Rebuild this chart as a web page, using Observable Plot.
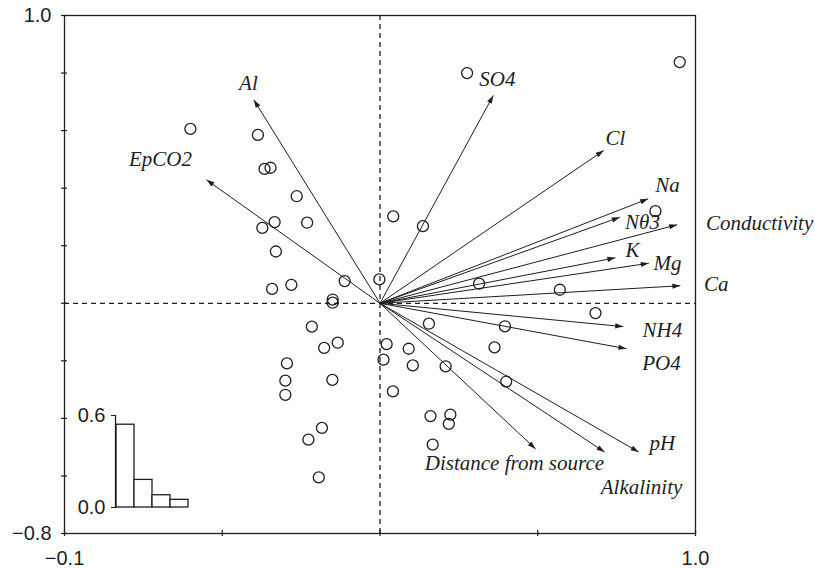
<!DOCTYPE html>
<html><head><meta charset="utf-8">
<script src="https://cdn.jsdelivr.net/npm/d3@7"></script>
<script src="https://cdn.jsdelivr.net/npm/@observablehq/plot@0.6"></script>
<style>
body{margin:0;background:#fff}
#wrap{position:relative;width:815px;height:569px;background:#fff;font-family:"Liberation Sans",Arial,sans-serif}
#inset{position:absolute;left:60px;top:400px}
#main svg g[aria-label="text"] text{font-family:"Liberation Serif","Times New Roman","DejaVu Serif",serif !important;font-style:italic !important}
#wrap svg g[aria-label$="axis tick label"] text{font-family:"Liberation Sans",Arial,sans-serif !important}
</style>
</head><body><div id="wrap"><div id="main"></div><div id="inset"></div></div>
<script>
// Sample scores (circles)
const sampleX = [-0.601,-0.387,-0.366,-0.347,-0.264,-0.334,-0.373,-0.231,-0.330,-0.342,-0.281,-0.112,-0.002,-0.150,-0.150,-0.216,-0.134,-0.177,-0.295,-0.300,-0.300,-0.151,-0.184,-0.227,-0.194,0.042,0.136,0.276,0.950,0.314,0.570,0.873,0.683,0.155,0.396,0.021,0.011,0.091,0.104,0.208,0.363,0.400,0.041,0.160,0.223,0.218,0.167];
const sampleY = [0.606,0.585,0.467,0.471,0.372,0.282,0.262,0.280,0.180,0.050,0.064,0.077,0.083,0.013,0.002,-0.081,-0.137,-0.155,-0.209,-0.269,-0.318,-0.266,-0.433,-0.474,-0.605,0.302,0.268,0.800,0.838,0.068,0.047,0.320,-0.034,-0.071,-0.080,-0.142,-0.196,-0.158,-0.216,-0.219,-0.153,-0.272,-0.306,-0.392,-0.387,-0.419,-0.491];

// Environmental variables (arrows)
const varNames = ["Al","EpCO2","SO4","Cl","Na","Nθ3","Conductivity","K","Mg","Ca","NH4","PO4","pH","Alkalinity","Distance from source"];
const varX = [-0.400,-0.550,0.359,0.709,0.850,0.760,0.942,0.746,0.852,0.952,0.771,0.781,0.820,0.712,0.493];
const varY = [0.707,0.429,0.722,0.531,0.363,0.299,0.273,0.158,0.139,0.061,-0.081,-0.158,-0.517,-0.517,-0.506];
const labelX = [-0.417,-0.696,0.372,0.746,0.911,0.832,1.203,0.800,0.911,1.066,0.895,0.892,0.895,0.829,0.426];
const labelY = [0.764,0.500,0.778,0.573,0.409,0.281,0.277,0.183,0.138,0.065,-0.094,-0.209,-0.487,-0.640,-0.557];

// Eigenvalue inset
const eigenAxes = ["1","2","3","4"];
const eigenValues = [0.54,0.18,0.08,0.05];
const eigenTicks = [0, 0.6];

// Axis ticks
const xTicks = [-1,-0.5,0,0.5,1];
const yTicks = [-0.8,-0.6,-0.4,-0.2,0,0.2,0.4,0.6,0.8,1.0];
const xLabelTicks = [-1, 1];
const xLabelText = ["−0.1", "1.0"];
const yLabelTicks = [-0.8, 1.0];
const yLabelText = ["−0.8", "1.0"];

const samples = sampleX.map((x, i) => ({sx: x, sy: sampleY[i]}));
const vars = varNames.map((n, i) => ({name: n, vx: varX[i], vy: varY[i], lx: labelX[i], ly: labelY[i]}));
const eigen = eigenAxes.map((a, i) => ({axis: a, value: eigenValues[i]}));
const xLab = new Map(xLabelTicks.map((t, i) => [t, xLabelText[i]]));
const yLab = new Map(yLabelTicks.map((t, i) => [t, yLabelText[i]]));

const INK = "#1e1e1e";
const SANS = "Liberation Sans";
const SERIF = "Liberation Serif";

function filledArrow(color, context) {
  return d3.create("svg:marker")
    .attr("viewBox", "-9 -4 10 8")
    .attr("markerWidth", 10)
    .attr("markerHeight", 8)
    .attr("markerUnits", "userSpaceOnUse")
    .attr("refX", 0)
    .attr("refY", 0)
    .attr("orient", "auto")
    .call(m => m.append("path").attr("d", "M-8,-2.6L0,0L-8,2.6Z").attr("fill", color).attr("stroke", "none"))
    .node();
}

function arrowMarks(useMarker) {
  if (useMarker) {
    return Plot.link(vars, {x1: () => 0, y1: () => 0, x2: "vx", y2: "vy", stroke: INK, strokeWidth: 1, markerEnd: filledArrow});
  }
  return Plot.arrow(vars, {x1: () => 0, y1: () => 0, x2: "vx", y2: "vy", stroke: INK, strokeWidth: 1, headLength: 8, headAngle: 35});
}

function buildMain(useMarker) {
  return Plot.plot({
    width: 815, height: 569,
    marginTop: 15, marginRight: 120, marginBottom: 36, marginLeft: 64,
    style: {fontFamily: SANS, background: "transparent"},
    x: {domain: [-1, 1], label: null},
    y: {domain: [-0.8, 1.0], label: null},
    marks: [
      Plot.ruleX([0], {stroke: INK, strokeWidth: 1.3, strokeDasharray: "5,4"}),
      Plot.ruleY([0], {stroke: INK, strokeWidth: 1.3, strokeDasharray: "5,4"}),
      Plot.frame({stroke: INK, strokeWidth: 1.3}),
      Plot.axisX(xTicks, {anchor: "bottom", tickSize: 6, dy: -3, tickFormat: () => "", stroke: INK, strokeWidth: 1.2}),
      Plot.axisY(yTicks, {anchor: "left", tickSize: 6, dx: 3, tickFormat: () => "", stroke: INK, strokeWidth: 1.2}),
      Plot.axisX(xLabelTicks, {anchor: "bottom", tickSize: 0, tickPadding: 17, tickFormat: d => xLab.get(d), fontSize: 20, fill: INK, fontFamily: SANS}),
      Plot.axisY(yLabelTicks, {anchor: "left", tickSize: 0, tickPadding: 13, tickFormat: d => yLab.get(d), fontSize: 20, fill: INK, fontFamily: SANS}),
      Plot.dot(samples, {x: "sx", y: "sy", r: 5.5, stroke: INK, strokeWidth: 1.3, fill: "none"}),
      arrowMarks(useMarker),
      Plot.text(vars, {x: "lx", y: "ly", text: "name", textAnchor: "middle", fontFamily: SERIF, fontStyle: "italic", fontSize: 21, fill: INK})
    ]
  });
}

let mainSvg;
try { mainSvg = buildMain(true); } catch (e) { mainSvg = buildMain(false); }
document.getElementById("main").append(mainSvg);

const insetSvg = Plot.plot({
  width: 140, height: 120,
  marginTop: 15, marginRight: 10.5, marginBottom: 13, marginLeft: 55,
  style: {fontFamily: SANS, background: "transparent"},
  x: {type: "band", domain: eigenAxes, paddingInner: 0, paddingOuter: 0, axis: null, label: null},
  y: {domain: [0, 0.6], label: null},
  marks: [
    Plot.barY(eigen, {x: "axis", y: "value", fill: "white", stroke: INK, strokeWidth: 1.3}),
    Plot.frame({anchor: "left", stroke: INK, strokeWidth: 1.3}),
    Plot.axisY(eigenTicks, {anchor: "left", tickSize: 4, tickPadding: 6, tickFormat: d3.format(".1f"), fontSize: 20, fill: INK, stroke: INK, fontFamily: SANS})
  ]
});
document.getElementById("inset").append(insetSvg);
</script>
</body></html>
